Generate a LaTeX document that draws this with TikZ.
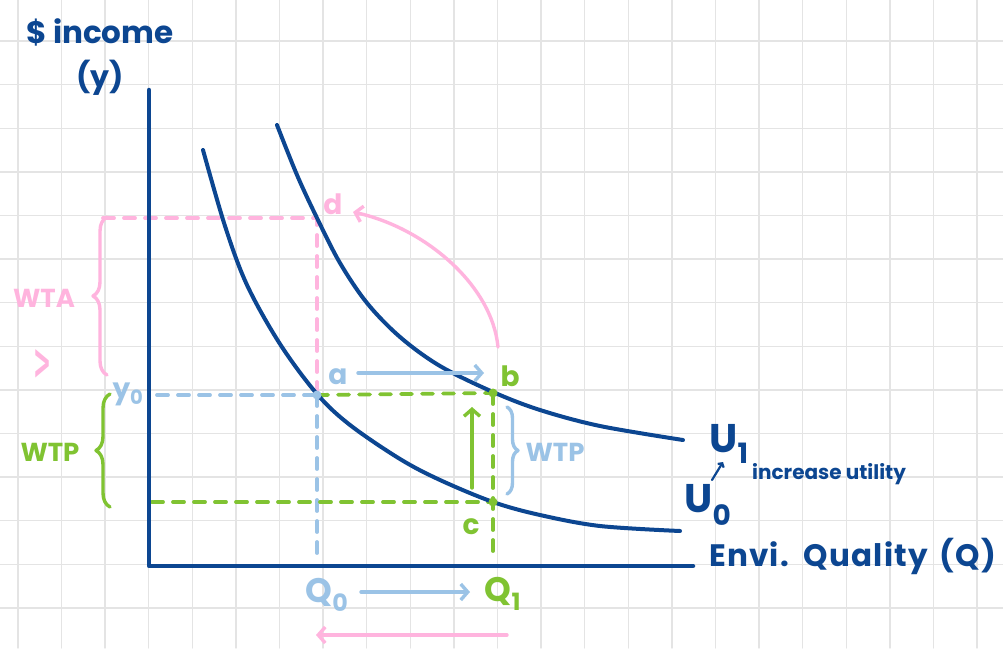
\documentclass[tikz,border=0pt]{standalone}
\usepackage{fontspec}
\setmainfont{Poppins}
\newfontfamily\dejavu{DejaVu Sans}
\usetikzlibrary{arrows.meta,decorations.pathreplacing}
\definecolor{navy}{RGB}{12,70,145}
\definecolor{pinkc}{RGB}{255,180,222}
\definecolor{lblue}{RGB}{155,195,230}
\definecolor{lgreen}{RGB}{128,195,50}
\definecolor{gridc}{RGB}{228,228,228}
\begin{document}
\begin{tikzpicture}[x=1pt,y=-1pt,line cap=round,line join=round,
  gridline/.style={gridc,line width=1.4pt},
  curve/.style={navy,line width=4pt},
  axis/.style={navy,line width=4.5pt},
  dashline/.style={line width=3.8pt,dash pattern=on 11pt off 10pt},
  arr/.style={line width=3.4pt,-{Straight Barb[length=7pt,width=16pt,line width=3.4pt]}},
  brc/.style={line width=3.4pt,decorate,decoration={brace,amplitude=14pt}},
  lbl/.style={inner sep=0pt,font=\fontsize{24}{24}\selectfont\bfseries},
  dot/.style={circle,inner sep=0pt,minimum size=9pt}]
\useasboundingbox (0,0) rectangle (1003,648);
\fill[white] (0,0) rectangle (1003,648);
\foreach \i in {0,...,22} \draw[gridline] ({17.9+43.6*\i},0) -- ({17.9+43.6*\i},648);
\foreach \j in {1,...,14} \draw[gridline] (0,{-2.6+43.6*\j}) -- (1003,{-2.6+43.6*\j});

% key points
\coordinate (a) at (317,395);
\coordinate (b) at (493,393);
\coordinate (c) at (493,502);
\coordinate (d) at (317,218);
\coordinate (yaxtop) at (149,90);
\coordinate (origin) at (149,566);
\coordinate (xend) at (693,566);

% dashed guide lines
\coordinate (pinkL) at (103,218);
\coordinate (blueL) at (157,395);
\coordinate (greenL) at (152,502);
\coordinate (q0) at (317,560);
\coordinate (q1) at (493,560);
\draw[dashline,pinkc] (pinkL) -- (d) -- (a);
\draw[dashline,lblue] (blueL) -- (a);
\draw[dashline,lblue] (a) -- (q0);
\draw[dashline,lgreen] (a) -- (b);
\draw[dashline,lgreen] (b) -- (q1);
\draw[dashline,lgreen] (greenL) -- (c);

% indifference curves
\draw[curve] plot[smooth,tension=0.55] coordinates {(203,150) (225,226) (247,285) (280,344) (317,394) (350,425) (400,459) (440,480) (493,502) (540,515) (600,526) (680,531)};
\draw[curve] plot[smooth,tension=0.55] coordinates {(277,125) (297,175) (317,218) (340,263) (367,303) (400,337) (440,366) (493,392) (540,410) (600,426) (683,440)};

% axes
\draw[axis] (yaxtop) -- (origin) -- (xend);

% points
\node[dot,fill=lblue] (pa) at (a) {};
\node[dot,fill=lgreen] (pb) at (b) {};
\node[dot,fill=lgreen] (pc) at (c) {};

% arrows
\coordinate (ab1) at (358,373);
\coordinate (ab2) at (484,373);
\draw[arr,lblue] (ab1) -- (ab2);
\coordinate (cb1) at (472,488);
\coordinate (cb2) at (472,407);
\draw[arr,lgreen] (cb1) -- (cb2);
\coordinate (bd1) at (498,347);
\coordinate (bd2) at (353,212);
\draw[arr,pinkc] (bd1) .. controls (492,285) and (425,228) .. (bd2);
\coordinate (qa1) at (361,592);
\coordinate (qa2) at (470,592);
\draw[arr,lblue] (qa1) -- (qa2);
\coordinate (qb1) at (507,635);
\coordinate (qb2) at (316,635);
\draw[arr,pinkc] (qb1) -- (qb2);
\coordinate (u01) at (712,480);
\coordinate (u02) at (723,462);
\draw[navy,line width=2.2pt,-{Straight Barb[length=3pt,width=7pt,line width=2.2pt]}] (u01) -- (u02);

% braces
\coordinate (wtaB) at (107,375);
\coordinate (wtaT) at (107,217);
\draw[brc,pinkc] (wtaB) -- (wtaT);
\coordinate (wtpB) at (110,507);
\coordinate (wtpT) at (110,394);
\draw[brc,lgreen] (wtpB) -- (wtpT);
\coordinate (wtp2T) at (507,407);
\coordinate (wtp2B) at (507,494);
\draw[brc,lblue,decoration={brace,amplitude=11pt}] (wtp2T) -- (wtp2B);

% labels
\node[lbl,navy,anchor=west,font=\fontsize{31}{31}\selectfont\bfseries] (inc) at (26,32) {\$ income};
\node[lbl,navy,font=\fontsize{30}{30}\selectfont\bfseries] (yl) at (100,78) {(y)};
\node[lbl,pinkc,font=\fontsize{26}{26}\selectfont\bfseries] (wta) at (44,298) {WTA};
\node[lbl,pinkc] (gt) at (43,364) {\resizebox{18pt}{30pt}{\dejavu\bfseries >}};
\node[lbl,lgreen,font=\fontsize{26}{26}\selectfont\bfseries] (wtpL) at (50,452) {WTP};
\node[lbl,lblue,font=\fontsize{26}{26}\selectfont\bfseries] (wtpR) at (555,452) {WTP};
\node[lbl,lblue,font=\fontsize{28}{28}\selectfont\bfseries] (y0) at (128,394) {y\textsubscript{0}};
\node[lbl,lblue,font=\fontsize{28}{28}\selectfont\bfseries] (la) at (338,377) {a};
\node[lbl,lgreen,font=\fontsize{28}{28}\selectfont\bfseries] (lb) at (510,376) {b};
\node[lbl,lgreen,font=\fontsize{28}{28}\selectfont\bfseries] (lc) at (471,527) {c};
\node[lbl,pinkc,font=\fontsize{28}{28}\selectfont\bfseries] (ld) at (333,204) {d};
\node[lbl,lblue,font=\fontsize{34}{34}\selectfont\bfseries] (lq0) at (327,595) {Q\textsubscript{0}};
\node[lbl,lgreen,font=\fontsize{34}{34}\selectfont\bfseries] (lq1) at (503,594) {Q\textsubscript{1}};
\node[lbl,navy,font=\fontsize{40}{40}\selectfont\bfseries] (lu1) at (729,444) {U\textsubscript{1}};
\node[lbl,navy,font=\fontsize{40}{40}\selectfont\bfseries] (lu0) at (708,505) {U\textsubscript{0}};
\node[lbl,navy,anchor=west,font=\fontsize{20}{20}\selectfont\bfseries] (inc2) at (752,474) {increase utility};
\node[lbl,navy,anchor=west,font=\fontsize{31}{31}\selectfont\bfseries\addfontfeatures{LetterSpace=4}] (envi) at (709,556) {Envi.\hspace{4pt} Quality\hspace{4pt} (Q)};
\end{tikzpicture}
\end{document}
